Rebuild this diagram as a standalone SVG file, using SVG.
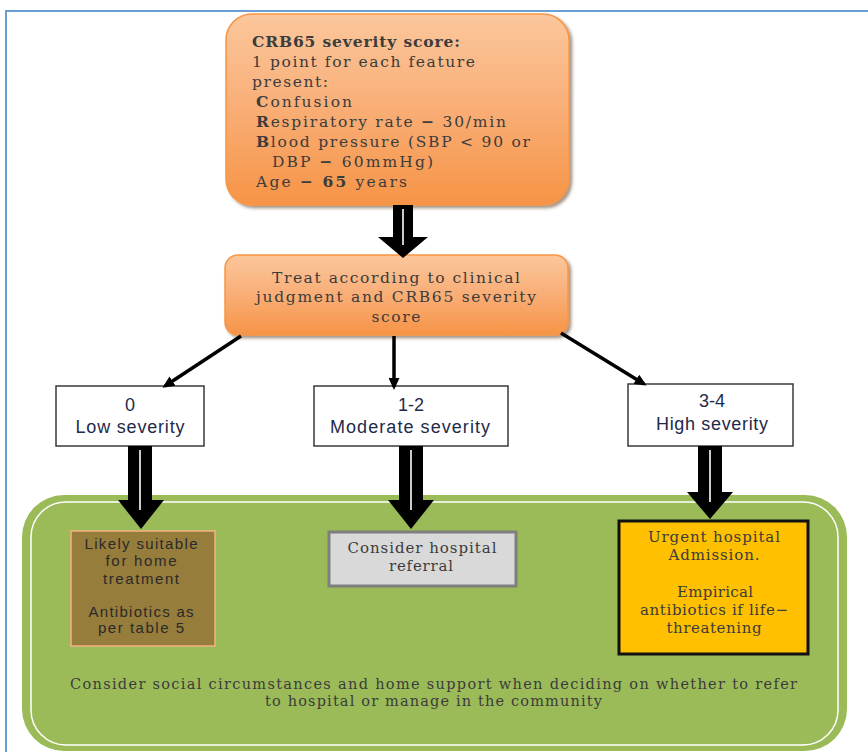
<svg xmlns="http://www.w3.org/2000/svg" width="868" height="752" viewBox="0 0 868 752">
<defs>
  <linearGradient id="og" x1="0" y1="0" x2="0" y2="1">
    <stop offset="0" stop-color="#fbc79c"/>
    <stop offset="0.45" stop-color="#f9b07a"/>
    <stop offset="1" stop-color="#f69446"/>
  </linearGradient>
  <filter id="sh" x="-10%" y="-10%" width="125%" height="125%">
    <feDropShadow dx="2.5" dy="2.5" stdDeviation="1.5" flood-color="#5a3a1a" flood-opacity="0.55"/>
  </filter>
  <marker id="ah" markerWidth="12" markerHeight="11" refX="9" refY="5.5" orient="auto" markerUnits="userSpaceOnUse" viewBox="0 0 12 11">
    <path d="M0,0 L12,5.5 L0,11 Z" fill="#000"/>
  </marker>
  <style>
    .ser { font-family: "DejaVu Serif", "Liberation Serif", serif; fill: #3c3c3c; }
    .top { font-size: 15.5px; }
    .mid { font-size: 15.5px; text-anchor: middle; }
    .lvl { font-family: "Liberation Sans", Arial, sans-serif; font-size: 18px; fill: #1f2a4a; text-anchor: middle; }
    .brn { font-family: "Liberation Sans", Arial, sans-serif; font-size: 15px; fill: #2a2a2a; text-anchor: middle; }
    .box3 { fill: #ffffff; stroke: #3a3a3a; stroke-width: 1.5; }
    .obox { fill: url(#og); stroke: #f79646; stroke-width: 1.5; filter: url(#sh); }
    .thin { stroke: #000; stroke-width: 3.5; fill: none; marker-end: url(#ah); }
    .big { fill: #000; }
    .stripe { stroke: #ffffff; stroke-width: 1.6; }
  </style>
</defs>

<rect x="6" y="11" width="880" height="760" fill="#ffffff" stroke="#6a9fd6" stroke-width="2"/>

<g id="community-area">
  <rect x="22" y="495" width="825" height="256" rx="42" fill="#9bbb59"/>
  <rect x="31" y="502" width="807" height="243" rx="35" fill="none" stroke="#ffffff" stroke-width="1.5"/>
  <text class="ser" font-size="14.5" text-anchor="middle" x="433.5" y="689" textLength="727" lengthAdjust="spacing">Consider social circumstances and home support when deciding on whether to refer</text>
  <text class="ser" font-size="14.5" text-anchor="middle" x="433.5" y="706" textLength="337" lengthAdjust="spacing">to hospital or manage in the community</text>
</g>

<g id="crb65-score">
  <rect class="obox" x="226" y="14" width="343" height="191" rx="26"/>
  <text class="ser top" x="252" y="47" font-weight="bold" fill="#222" textLength="208" lengthAdjust="spacing">CRB65 severity score:</text>
  <text class="ser top" x="252" y="67" textLength="223" lengthAdjust="spacing">1 point for each feature</text>
  <text class="ser top" x="252" y="87" textLength="76" lengthAdjust="spacing">present:</text>
  <text class="ser top" x="256" y="107" textLength="96" lengthAdjust="spacing"><tspan font-weight="bold">C</tspan>onfusion</text>
  <text class="ser top" x="256" y="127" textLength="250" lengthAdjust="spacing"><tspan font-weight="bold">R</tspan>espiratory rate <tspan font-weight="bold">−</tspan> 30/min</text>
  <text class="ser top" x="256" y="147" textLength="274" lengthAdjust="spacing"><tspan font-weight="bold">B</tspan>lood pressure (SBP &lt; 90 or</text>
  <text class="ser top" x="272" y="167" textLength="161" lengthAdjust="spacing">DBP <tspan font-weight="bold">−</tspan> 60mmHg)</text>
  <text class="ser top" x="256" y="187" textLength="151" lengthAdjust="spacing">Age <tspan font-weight="bold">−</tspan> <tspan font-weight="bold">65</tspan> years</text>
</g>

<g id="treat">
  <rect class="obox" x="225" y="255" width="343" height="80" rx="13"/>
  <text class="ser mid" x="396" y="283" textLength="248" lengthAdjust="spacing">Treat according to clinical</text>
  <text class="ser mid" x="396" y="302" textLength="280" lengthAdjust="spacing">judgment and CRB65 severity</text>
  <text class="ser mid" x="396" y="322" textLength="49" lengthAdjust="spacing">score</text>
</g>

<g id="low">
  <rect class="box3" x="56" y="386" width="148" height="60"/>
  <text class="lvl" x="130" y="411">0</text>
  <text class="lvl" x="130" y="433" textLength="109" lengthAdjust="spacing">Low severity</text>
</g>

<g id="moderate">
  <rect class="box3" x="314" y="386" width="194" height="60"/>
  <text class="lvl" x="411" y="411">1-2</text>
  <text class="lvl" x="410" y="433" textLength="160" lengthAdjust="spacing">Moderate severity</text>
</g>

<g id="high">
  <rect class="box3" x="628" y="384" width="165" height="62"/>
  <text class="lvl" x="712" y="407">3-4</text>
  <text class="lvl" x="712" y="430" textLength="112" lengthAdjust="spacing">High severity</text>
</g>

<g id="home-treatment">
  <rect x="71" y="531" width="144" height="115" fill="#967d3c" stroke="#f4b183" stroke-width="1.5"/>
  <text class="brn" x="141" y="549" textLength="113" lengthAdjust="spacing">Likely suitable</text>
  <text class="brn" x="141" y="566" textLength="71" lengthAdjust="spacing">for home</text>
  <text class="brn" x="141" y="584" textLength="76" lengthAdjust="spacing">treatment</text>
  <text class="brn" x="141" y="617" textLength="105" lengthAdjust="spacing">Antibiotics as</text>
  <text class="brn" x="141" y="633" textLength="86" lengthAdjust="spacing">per table 5</text>
</g>

<g id="hospital-referral">
  <rect x="329" y="532" width="187" height="54" fill="#d9d9d9" stroke="#7f7f7f" stroke-width="3"/>
  <text class="ser" font-size="15" text-anchor="middle" x="422" y="553" textLength="149" lengthAdjust="spacing">Consider hospital</text>
  <text class="ser" font-size="15" text-anchor="middle" x="421" y="571" textLength="64" lengthAdjust="spacing">referral</text>
</g>

<g id="urgent-admission">
  <rect x="619" y="521" width="189" height="133" fill="#ffc000" stroke="#111" stroke-width="3"/>
  <text class="ser" font-size="15" text-anchor="middle" x="714" y="542" textLength="132" lengthAdjust="spacing">Urgent hospital</text>
  <text class="ser" font-size="15" text-anchor="middle" x="714" y="560" textLength="91" lengthAdjust="spacing">Admission.</text>
  <text class="ser" font-size="15" text-anchor="middle" x="715" y="597" textLength="76" lengthAdjust="spacing">Empirical</text>
  <text class="ser" font-size="15" text-anchor="middle" x="714" y="615" textLength="148" lengthAdjust="spacing">antibiotics if life−</text>
  <text class="ser" font-size="15" text-anchor="middle" x="714" y="633" textLength="95" lengthAdjust="spacing">threatening</text>
</g>

<g id="connectors">
  <polygon class="big" points="393,205 413,205 413,237 428,237 403,258 378,237 393,237"/>
  <line class="stripe" x1="403" y1="209" x2="403" y2="245"/>
  <line class="thin" x1="241" y1="336" x2="165" y2="386"/>
  <line class="thin" x1="394" y1="336" x2="394" y2="387"/>
  <line class="thin" x1="561" y1="333" x2="644" y2="384"/>
  <polygon class="big" points="128,446 152,446 152,500 164,500 141,529 118,500 128,500"/>
  <line class="stripe" x1="140" y1="450" x2="140" y2="510"/>
  <polygon class="big" points="399,446 423,446 423,500 434,500 411,529 388,500 399,500"/>
  <line class="stripe" x1="411" y1="450" x2="411" y2="510"/>
  <polygon class="big" points="698,446 722,446 722,492 733,492 710,519 687,492 698,492"/>
  <line class="stripe" x1="710" y1="450" x2="710" y2="502"/>
</g>
</svg>
